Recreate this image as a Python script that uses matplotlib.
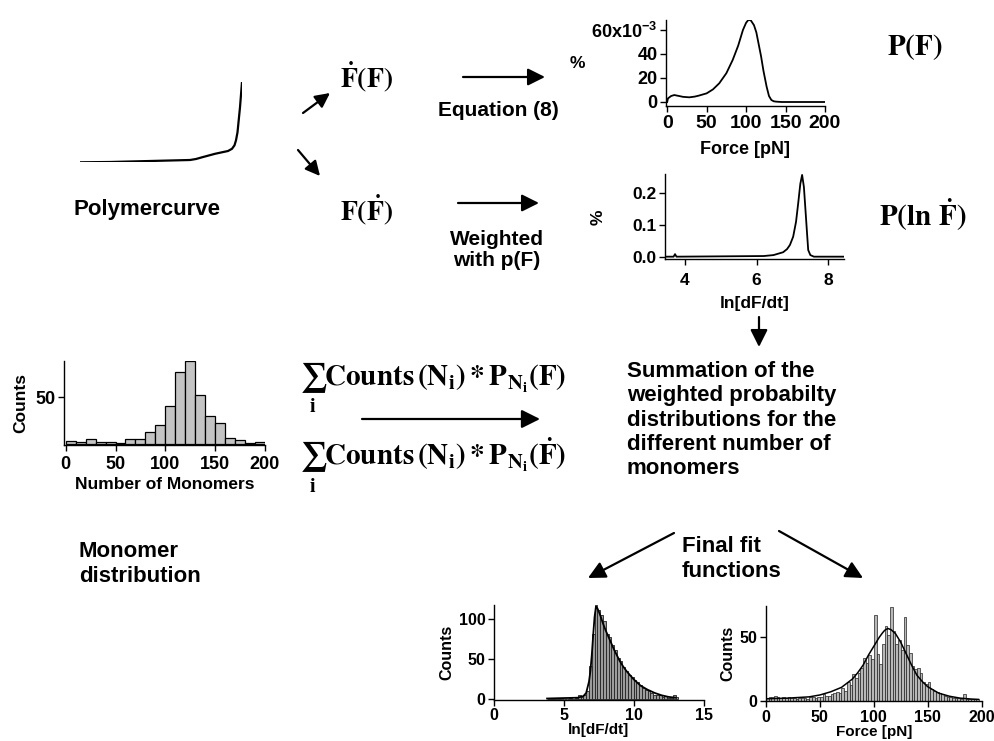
import matplotlib
matplotlib.use('Agg')
import matplotlib.pyplot as plt
import numpy as np

plt.rcParams['font.family'] = ['Liberation Sans', 'DejaVu Sans']
plt.rcParams['font.weight'] = 'bold'
plt.rcParams['axes.labelweight'] = 'bold'
plt.rcParams['mathtext.fontset'] = 'custom'
plt.rcParams['mathtext.rm'] = 'Liberation Sans:bold'
plt.rcParams['mathtext.bf'] = 'Liberation Sans:bold'
plt.rcParams['axes.linewidth'] = 1.0

W, H = 995, 741

# polymer stretching curve (arbitrary units)
poly_ext = [0, 30, 110, 116, 122, 135, 148, 152, 154.5, 156, 157.5, 160, 162]
poly_force = [0, 0.3, 2.3, 3.3, 5.0, 8.5, 11.3, 13.5, 17, 22, 30, 55, 80.3]

# P(F), in units of 1e-3
pf_force = [0, 1, 5, 9, 15, 20, 28, 35, 40, 50, 58, 66, 75, 83, 90, 96, 100, 103, 106,
            110, 113, 116, 119, 122, 126, 129, 132, 135, 138, 145, 200]
pf_prob = [0, 3, 5, 5.8, 5, 4.3, 3.9, 4.5, 5.3, 7.2, 10.5, 15.6, 24, 35, 47, 60, 66, 68.5, 68,
           64, 58, 48, 38, 26, 12.8, 5, 1.7, 0.6, 0.3, 0, 0]

# P(ln Fdot)
pln_x = [3.44, 3.68, 3.72, 3.76, 5.0, 6.2, 6.47, 6.74, 6.85, 6.93, 7.02, 7.1, 7.16, 7.22, 7.27,
         7.32, 7.37, 7.41, 7.44, 7.5, 7.6, 8.44]
pln_y = [0, 0, 0.008, 0, 0.001, 0.002, 0.005, 0.014, 0.024, 0.037, 0.063, 0.11, 0.168, 0.23, 0.258,
         0.22, 0.137, 0.07, 0.021, 0.005, 0, 0]

# monomer distribution, 10-monomer bins
mono_edges = [0, 10, 20, 30, 40, 50, 60, 70, 80, 90, 100, 110, 120, 130, 140, 150, 160, 170, 180, 190]
mono_counts = [3, 2, 5.4, 2, 2, 1, 5.7, 5.7, 12.8, 20, 40.7, 76.7, 89, 53, 30, 22.8, 6, 4, 0.7, 2]

# final fit: ln[dF/dt] histogram, 0.2 bins
ln_edges = [3.8, 4.0, 4.2, 4.4, 4.6, 4.8, 5.0, 5.2, 5.4, 5.6, 5.8, 6.0, 6.2, 6.4, 6.6, 6.8,
            7.0, 7.2, 7.4, 7.6, 7.8, 8.0, 8.2, 8.4, 8.6, 8.8, 9.0, 9.2, 9.4, 9.6, 9.8, 10.0,
            10.2, 10.4, 10.6, 10.8, 11.0, 11.2, 11.4, 11.6, 11.8, 12.0, 12.2, 12.4, 12.6, 12.8, 13.0]
ln_counts = [1, 2, 2, 1, 2, 1, 1, 1, 2, 1, 2, 6, 3, 5, 10, 42,
             82, 118, 112, 106, 98, 82, 78, 68, 62, 52, 48, 40, 36, 30, 28, 24,
             22, 18, 14, 12, 10, 8, 6, 6, 5, 3, 4, 2, 2, 5, 3]
ln_fit_x = [3.8, 6.0, 6.4, 6.6, 6.8, 6.9, 7.0, 7.1, 7.2, 7.3, 7.4, 7.5, 7.65, 7.8, 8.0, 8.2, 8.4,
            8.6, 8.8, 9.0, 9.25, 9.5, 9.75, 10.0, 10.5, 11.0, 11.5, 12.0, 12.5, 13.0]
ln_fit_y = [1, 2, 4, 8, 22, 35, 55, 80, 103, 116, 114, 110, 103, 95, 86, 78, 70,
            62, 55, 48, 41, 35, 30, 25, 17, 12, 8, 5, 3, 2]

# final fit: force histogram, 2.5 pN bins
force_counts = [2, 3, 3, 4, 3, 2, 3, 2, 3, 2, 2, 1, 2, 2, 2, 1, 3, 3, 2, 3,
                3, 5, 4, 4, 5, 6, 7, 6, 10, 8, 15, 12, 21, 18, 22, 26, 34, 30, 36, 33,
                68, 37, 29, 45, 59, 52, 74, 55, 45, 48, 40, 66, 44, 38, 27, 25, 26, 22, 15, 13,
                15, 9, 8, 7, 6, 5, 4, 3, 3, 2, 2, 2, 1, 5, 1, 1, 1, 1, 1, 0]
force_edges = [2.5 * i for i in range(len(force_counts))]
force_fit_x = [0, 20, 40, 50, 60, 70, 80, 85, 90, 95, 100, 105, 108, 110, 113, 116, 120, 125, 130,
               135, 140, 145, 150, 160, 170, 180, 190, 197]
force_fit_y = [1.5, 2, 3, 4.5, 7, 10.5, 17, 22, 28, 36, 43, 50, 53.5, 55.5, 57, 56, 53, 46, 37,
               28, 20, 15, 11, 6, 3.5, 2, 1.3, 1]

fig = plt.figure(figsize=(W / 100, H / 100), dpi=100)

# overlay in pixel coordinates for the diagram text and arrows
ax0 = fig.add_axes([0, 0, 1, 1])
ax0.set_xlim(0, W)
ax0.set_ylim(H, 0)
ax0.axis('off')


def px_axes(x0, y0, x1, y1):
    ax = fig.add_axes([x0 / W, 1 - y1 / H, (x1 - x0) / W, (y1 - y0) / H])
    ax.set_facecolor('none')
    return ax


def style(ax, size, pad=2):
    ax.spines['top'].set_visible(False)
    ax.spines['right'].set_visible(False)
    ax.tick_params(direction='out', length=4, width=1, labelsize=size, pad=pad)


def arrow(p0, p1, ms=24):
    ax0.annotate('', xy=p1, xytext=p0,
                 arrowprops=dict(arrowstyle='-|>', mutation_scale=ms, lw=1.6, color='k',
                                 shrinkA=0, shrinkB=0))


# polymer curve
axp = px_axes(80, 82, 242, 162.3)
axp.plot(poly_ext, poly_force, color='k', lw=1.6)
axp.set_xlim(0, 162)
axp.set_ylim(0, 80.3)
axp.axis('off')

# P(F)
ax1 = px_axes(666, 19.8, 825, 105.6)
ax1.plot(pf_force, pf_prob, color='k', lw=1.3)
ax1.set_xlim(-1.5, 200)
ax1.set_ylim(-3, 68.5)
ax1.set_xticks([0, 50, 100, 150, 200])
ax1.set_yticks([0, 20, 40, 60])
ax1.set_yticklabels(['0', '20', '40', '60x10$^{-3}$'])
style(ax1, 13)
ax1.tick_params(axis='x', labelsize=14, pad=3)
ax1.set_xlabel('Force [pN]', fontsize=13, labelpad=6)

# P(ln Fdot)
ax2 = px_axes(665, 174.3, 844, 259.2)
ax2.plot(pln_x, pln_y, color='k', lw=1.3)
ax2.set_xlim(3.44, 8.44)
ax2.set_ylim(-0.008, 0.26)
ax2.set_xticks([4, 6, 8])
ax2.set_yticks([0.0, 0.1, 0.2])
ax2.set_yticklabels(['0.0', '0.1', '0.2'])
style(ax2, 12.5)
ax2.tick_params(axis='x', pad=6)
ax2.set_xlabel('ln[dF/dt]', fontsize=12.5, labelpad=6)

# monomer distribution
ax3 = px_axes(64, 360.7, 265, 445)
ax3.bar(mono_edges, mono_counts, width=10, align='edge', color='#c4c4c4', edgecolor='k', lw=0.9)
ax3.set_xlim(-1.7, 200)
ax3.set_ylim(-1, 89.2)
ax3.set_xticks([0, 50, 100, 150, 200])
ax3.set_yticks([50])
style(ax3, 13)
ax3.tick_params(axis='x', pad=4)
ax3.set_xlabel('Number of Monomers', fontsize=12.5, labelpad=3)
ax3.set_ylabel('Counts', fontsize=12.5, labelpad=5)

# final fit ln[dF/dt]
ax4 = px_axes(494, 605, 703.5, 700.1)
ax4.bar(ln_edges, ln_counts, width=0.2, align='edge', color='#9c9c9c', edgecolor='#222222', lw=0.6)
ax4.plot(ln_fit_x, ln_fit_y, color='k', lw=1.3)
ax4.set_xlim(0, 15)
ax4.set_ylim(-1, 118)
ax4.set_xticks([0, 5, 10, 15])
ax4.set_yticks([0, 50, 100])
style(ax4, 11.5)
ax4.set_xlabel('ln[dF/dt]', fontsize=11, labelpad=0)
ax4.set_ylabel('Counts', fontsize=11.5, labelpad=3)

# final fit force
ax5 = px_axes(766, 606.3, 981.7, 701.3)
ax5.bar(force_edges, force_counts, width=2.5, align='edge', color='#b8b8b8', edgecolor='#222222', lw=0.5)
ax5.plot(force_fit_x, force_fit_y, color='k', lw=1.1)
ax5.set_xlim(0, 200)
ax5.set_ylim(-0.5, 74.5)
ax5.set_xticks([0, 50, 100, 150, 200])
ax5.set_yticks([0, 50])
style(ax5, 11.5)
ax5.set_xlabel('Force [pN]', fontsize=11, labelpad=0)
ax5.set_ylabel('Counts', fontsize=11.5, labelpad=3)

# diagram text
ax0.text(147, 209, 'Polymercurve', fontsize=16, ha='center', va='center')
ax0.text(340, 77, r'$\dot{\mathbf{F}}\mathbf{(F)}$', fontsize=20, math_fontfamily='stix', ha='left', va='center')
ax0.text(340, 210, r'$\mathbf{F(}\dot{\mathbf{F}}\mathbf{)}$', fontsize=20, math_fontfamily='stix', ha='left', va='center')
ax0.text(498, 110, 'Equation (8)', fontsize=15, ha='center', va='center')
ax0.text(497, 250, 'Weighted\nwith p(F)', fontsize=15, ha='center', va='center', linespacing=1.15)
ax0.text(577, 63, '%', fontsize=12.5, ha='center', va='center')
ax0.text(598, 217, '%', fontsize=12.5, ha='center', va='center', rotation=90)
ax0.text(915, 47, r'$\mathbf{P(F)}$', fontsize=21, math_fontfamily='stix', ha='center', va='center')
ax0.text(923, 215, r'$\mathbf{P(ln\ }\dot{\mathbf{F}}\mathbf{)}$', fontsize=21, math_fontfamily='stix', ha='center', va='center')
ax0.text(300, 388, r'$\sum_{\mathbf{i}}\mathbf{Counts\,(N_i)*P_{N_i}(F)}$', fontsize=21, math_fontfamily='stix', ha='left', va='center')
ax0.text(300, 465, r'$\sum_{\mathbf{i}}\mathbf{Counts\,(N_i)*P_{N_i}(}\dot{\mathbf{F}}\mathbf{)}$', fontsize=21, math_fontfamily='stix', ha='left', va='center')
ax0.text(627, 420, 'Summation of the\nweighted probabilty\ndistributions for the\ndifferent number of\nmonomers',
         fontsize=16, ha='left', va='center', linespacing=1.2)
ax0.text(79, 564, 'Monomer\ndistribution', fontsize=16, ha='left', va='center', linespacing=1.2)
ax0.text(682, 559, 'Final fit\nfunctions', fontsize=16, ha='left', va='center', linespacing=1.2)

# arrows
arrow((303, 113), (330, 93), ms=22)
arrow((298, 150), (320, 176), ms=22)
arrow((463, 77), (545, 77), ms=26)
arrow((458, 203), (539, 203), ms=26)
arrow((362, 419), (540, 419), ms=28)
arrow((759, 317), (759, 347), ms=26)
arrow((674, 533), (588, 578), ms=26)
arrow((779, 531), (863, 578), ms=26)

fig.savefig('out.png', dpi=100)
